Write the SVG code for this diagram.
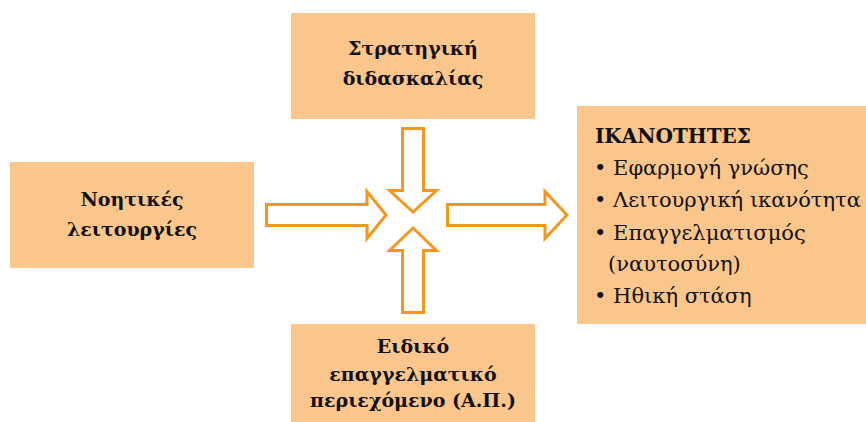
<svg xmlns="http://www.w3.org/2000/svg" width="866" height="422" viewBox="0 0 866 422">
  <style>
    .box { fill: #FBC68B; }
    .lbl { font-family: "DejaVu Serif", "Liberation Serif", serif; font-weight: bold; font-size: 19px; fill: #111; text-anchor: middle; }
    .lst { font-family: "DejaVu Serif", "Liberation Serif", serif; font-size: 21px; fill: #111; }
    .hd { font-weight: bold; font-size: 20px; }
    .arr { fill: #FFFFFF; stroke: #F7961E; stroke-width: 3; stroke-linejoin: miter; }
  </style>

  <g id="strategy">
    <rect class="box" x="291" y="13" width="244" height="106"/>
    <text class="lbl" x="413" y="55">Στρατηγική</text>
    <text class="lbl" x="413" y="85">διδασκαλίας</text>
  </g>

  <g id="cognitive">
    <rect class="box" x="10" y="162" width="244" height="106"/>
    <text class="lbl" x="132" y="206">Νοητικές</text>
    <text class="lbl" x="132" y="236">λειτουργίες</text>
  </g>

  <g id="content">
    <rect class="box" x="291" y="324" width="244" height="98"/>
    <text class="lbl" x="413" y="353">Ειδικό</text>
    <text class="lbl" x="413" y="381">επαγγελματικό</text>
    <text class="lbl" x="413" y="407">περιεχόμενο (Α.Π.)</text>
  </g>

  <g id="competences">
    <rect class="box" x="577" y="106" width="289" height="218"/>
    <text class="lst hd" x="595" y="143">ΙΚΑΝΟΤΗΤΕΣ</text>
    <text class="lst" x="594" y="175">• Εφαρμογή γνώσης</text>
    <text class="lst" x="594" y="207">• Λειτουργική ικανότητα</text>
    <text class="lst" x="594" y="240">• Επαγγελματισμός</text>
    <text class="lst" x="608" y="271">(ναυτοσύνη)</text>
    <text class="lst" x="594" y="303">• Ηθική στάση</text>
  </g>

  <g id="connectors">
    <path class="arr" d="M266.5,204.5 H367 V191.5 L386,215 L367,238.5 V225.5 H266.5 Z"/>
    <path class="arr" d="M447.5,204.5 H545 V191.5 L567,215 L545,238.5 V225.5 H447.5 Z"/>
    <path class="arr" d="M402.5,128.5 H423.5 V190.5 H436.5 L413,212 L389.5,190.5 H402.5 Z"/>
    <path class="arr" d="M402.5,312.5 H423.5 V250.5 H436.5 L413,228 L389.5,250.5 H402.5 Z"/>
  </g>
</svg>
